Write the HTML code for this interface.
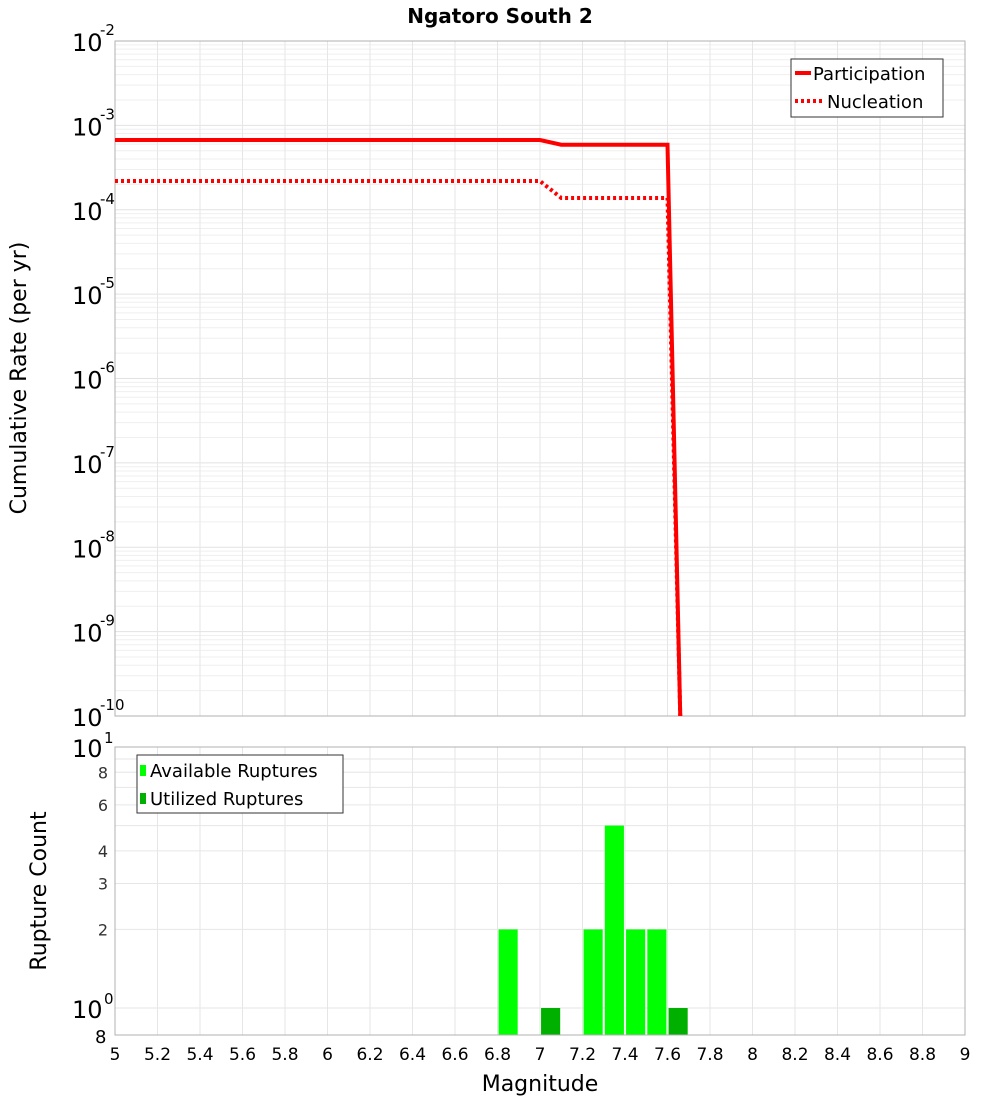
<!DOCTYPE html>
<html><head><meta charset="utf-8"><style>
body{margin:0;background:#fff;}
svg{display:block;font-family:"DejaVu Sans","Liberation Sans",sans-serif;}
</style></head><body>
<svg id="chart" width="1000" height="1100">
<text x="500" y="23" text-anchor="middle" font-size="20" font-weight="bold">Ngatoro South 2</text>
<g id="topg"></g><g id="botg"></g>
<text transform="translate(26,378) rotate(-90)" text-anchor="middle" font-size="22">Cumulative Rate (per yr)</text>
<text transform="translate(46,891) rotate(-90)" text-anchor="middle" font-size="22">Rupture Count</text>
<text x="540" y="1091" text-anchor="middle" font-size="22">Magnitude</text>
</svg>
<script>
// data
const partMag = [5.0, 7.0, 7.1, 7.6, 7.66];
const partRate = [6.7e-4, 6.7e-4, 5.9e-4, 5.9e-4, 1e-10];
const nuclMag = [5.0, 7.0, 7.1, 7.6, 7.66];
const nuclRate = [2.19e-4, 2.19e-4, 1.38e-4, 1.38e-4, 1e-10];
const availMag = [6.85, 7.25, 7.35, 7.45, 7.55];
const availCount = [2, 2, 5, 2, 2];
const utilMag = [7.05, 7.65];
const utilCount = [1, 1];
const xTicks = [5,5.2,5.4,5.6,5.8,6,6.2,6.4,6.6,6.8,7,7.2,7.4,7.6,7.8,8,8.2,8.4,8.6,8.8,9];
const yExps = [-2,-3,-4,-5,-6,-7,-8,-9,-10];
const countTicks = [2,3,4,6,8];

const NS='http://www.w3.org/2000/svg';
function mk(p,t,a){const e=document.createElementNS(NS,t);for(const k in a)e.setAttribute(k,a[k]);p.appendChild(e);return e;}
const L=115,R=965;
const xs=m=>L+(m-5)/4*(R-L);
const T1=41,B1=716;
const ys=v=>T1+(-2-Math.log10(v))/8*(B1-T1);
const T2=747,B2=1035;
const yc=v=>1008-Math.log10(v)*261;
const topG=document.getElementById('topg'),botG=document.getElementById('botg');

for(let e=-10;e<-2;e++)for(let k=1;k<10;k++){const y=ys(k*Math.pow(10,e));const g=mk(topG,'line',{x1:L,x2:R,y1:y,y2:y,stroke:k==1?'#e2e2e2':'#efefef','stroke-width':1});

}
xTicks.forEach(m=>{const x=xs(m);
const g=mk(topG,'line',{x1:x,x2:x,y1:T1,y2:B1,stroke:'#e6e6e6'});


const g2=mk(botG,'line',{x1:x,x2:x,y1:T2,y2:B2,stroke:'#e6e6e6'});


const t=mk(botG,'text',{x:x,y:1060,'text-anchor':'middle','font-size':17});t.textContent=String(m);

});
yExps.forEach(e=>{const y=ys(Math.pow(10,e));
const t=mk(topG,'text',{x:72,y:y+10,'font-size':24});t.textContent='10';


const s=mk(topG,'text',{x:100,y:y-6,'font-size':15});s.textContent=String(e);

});
const f1=mk(topG,'rect',{x:L,y:T1,width:R-L,height:B1-T1,fill:'none',stroke:'#b0b0b0'});


const cp=mk(topG,'clipPath',{id:'c1'});mk(cp,'rect',{x:L,y:T1,width:R-L,height:B1-T1});
const pp=mk(topG,'polyline',{points:partMag.map((m,i)=>xs(m)+','+ys(partRate[i])).join(' '),fill:'none',stroke:'#ff0000','stroke-width':4,'clip-path':'url(#c1)'});


const np=mk(topG,'polyline',{points:nuclMag.map((m,i)=>xs(m)+','+ys(nuclRate[i])).join(' '),fill:'none',stroke:'#ff0000','stroke-width':4,'stroke-dasharray':'3,3','clip-path':'url(#c1)'});


const lg=mk(topG,'g',{});


mk(lg,'rect',{x:791,y:59,width:152,height:58,fill:'#fff',stroke:'#333'});
mk(lg,'line',{x1:795,x2:811,y1:73,y2:73,stroke:'red','stroke-width':4});
mk(lg,'line',{x1:795,x2:823,y1:101,y2:101,stroke:'red','stroke-width':4,'stroke-dasharray':'3,3'});
let t=mk(lg,'text',{x:813,y:80,'font-size':18});t.textContent='Participation';
t=mk(lg,'text',{x:827,y:108,'font-size':18});t.textContent='Nucleation';

for(let k=1;k<=10;k++){const y=yc(k);const g=mk(botG,'line',{x1:L,x2:R,y1:y,y2:y,stroke:'#e6e6e6'});

}
countTicks.forEach(v=>{const tt=mk(botG,'text',{x:108,y:yc(v)+6,'text-anchor':'end','font-size':16,fill:'#333'});tt.textContent=String(v);

});
[[1008,'0'],[747,'1']].forEach(([y,e])=>{const a=mk(botG,'text',{x:72,y:y+10,'font-size':24});a.textContent='10';


const b=mk(botG,'text',{x:104,y:y-4,'font-size':15});b.textContent=e;});
t=mk(botG,'text',{x:95,y:1043,'font-size':18});t.textContent='8';
function bar(m,v,c,n){const r=mk(botG,'rect',{x:xs(m-0.045),y:yc(v),width:xs(0.09+5)-xs(5),height:B2-yc(v),fill:c});

}
availMag.forEach((m,i)=>bar(m,availCount[i],'#00ff00','available-bar'));
utilMag.forEach((m,i)=>bar(m,utilCount[i],'#00b000','utilized-bar'));
const f2=mk(botG,'rect',{x:L,y:T2,width:R-L,height:B2-T2,fill:'none',stroke:'#b0b0b0'});


const lb=mk(botG,'g',{});


mk(lb,'rect',{x:137,y:755,width:206,height:58,fill:'#fff',stroke:'#333'});
mk(lb,'rect',{x:140,y:765,width:6,height:11,fill:'#00ff00'});
mk(lb,'rect',{x:140,y:793,width:6,height:11,fill:'#00b000'});
t=mk(lb,'text',{x:150,y:777,'font-size':18});t.textContent='Available Ruptures';
t=mk(lb,'text',{x:150,y:805,'font-size':18});t.textContent='Utilized Ruptures';
</script>
</body></html>
